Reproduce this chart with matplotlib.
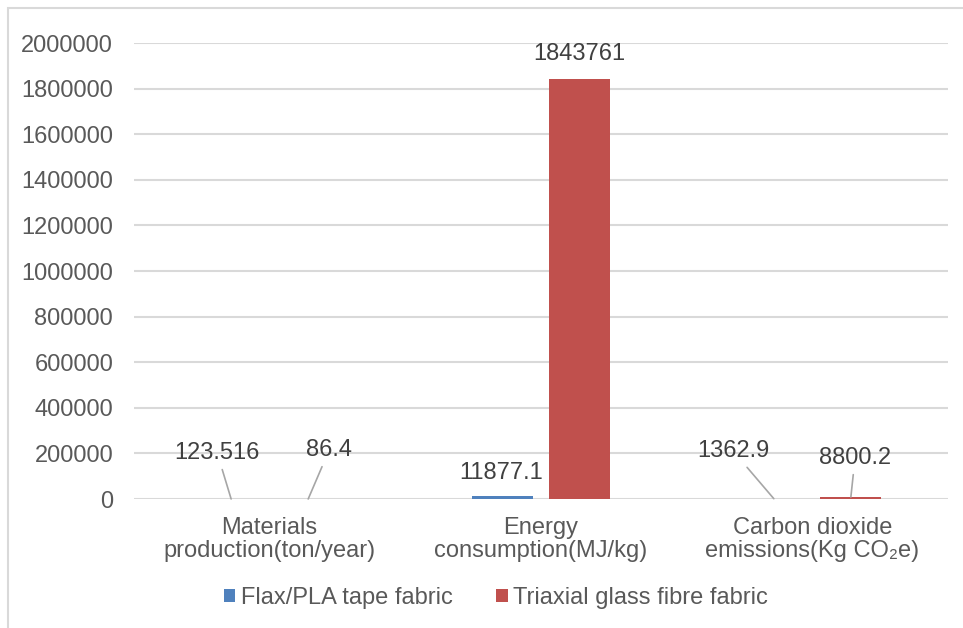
import numpy as np
from matplotlib import pyplot as plt
from matplotlib import ticker
from matplotlib.patches import Rectangle

plt.rcParams['font.family'] = ['Liberation Sans', 'DejaVu Sans']

categories = ['Materials\nproduction(ton/year)',
              'Energy\nconsumption(MJ/kg)',
              'Carbon dioxide\nemissions(Kg CO\u2082e)']
series_names = ['Flax/PLA tape fabric', 'Triaxial glass fibre fabric']
flax = [123.516, 11877.1, 1362.9]
glass = [86.4, 1843761, 8800.2]
flax_labels = ['123.516', '11877.1', '1362.9']
glass_labels = ['86.4', '1843761', '8800.2']

# label offsets (points) relative to the bar top, and whether a leader line is drawn
flax_offsets = [(-10, 33), (-1, 17), (-29, 34)]
glass_offsets = [(15, 35), (0, 18), (3, 28)]
flax_leader = [True, False, True]
glass_leader = [True, False, True]

BLUE = '#4F81BD'
RED = '#C0504D'
GRID = '#D9D9D9'
TEXT = '#595959'
LABEL = '#404040'


def main():
    fig = plt.figure(figsize=(9.63, 6.28), dpi=100)
    ax = fig.add_axes([134 / 963, 1 - 499 / 628, (948 - 134) / 963, (499 - 43) / 628])

    x = np.arange(len(categories))
    w = 0.225
    off = 0.142
    b1 = ax.bar(x - off, flax, w, color=BLUE, label=series_names[0], zorder=3)
    b2 = ax.bar(x + off, glass, w, color=RED, label=series_names[1], zorder=3)

    ax.set_xlim(-0.5, 2.5)
    ax.set_ylim(0, 2000000)
    ax.set_yticks(np.arange(0, 2000001, 200000))
    ax.yaxis.set_major_formatter(ticker.StrMethodFormatter('{x:.0f}'))
    ax.set_xticks(x)
    ax.set_xticklabels(categories, linespacing=1.05)
    ax.tick_params(axis='both', length=0, labelsize=17, colors=TEXT)
    ax.tick_params(axis='y', pad=15)
    ax.tick_params(axis='x', pad=13)
    ax.grid(axis='y', color=GRID, linewidth=1.5, zorder=0)
    for s in ax.spines.values():
        s.set_visible(False)

    for bars, labels, offs, leads in [(b1, flax_labels, flax_offsets, flax_leader),
                                      (b2, glass_labels, glass_offsets, glass_leader)]:
        for rect, lab, o, lead in zip(bars, labels, offs, leads):
            xy = (rect.get_x() + rect.get_width() / 2, rect.get_height())
            props = dict(arrowstyle='-', color='#A6A6A6', lw=1.2,
                         shrinkA=2, shrinkB=0) if lead else None
            ax.annotate(lab, xy=xy, xytext=o, textcoords='offset points',
                        ha='center', va='center', fontsize=17, color=LABEL,
                        arrowprops=props, zorder=4)

    fig.legend(loc='center', bbox_to_anchor=(496 / 963, 1 - 598 / 628), ncol=2,
               frameon=False, fontsize=17, labelcolor=TEXT,
               handlelength=0.5, handleheight=0.5, handletextpad=0.25,
               columnspacing=1.8)

    fig.patches.append(Rectangle((8 / 963, -0.1), 1.1, 1.1 - 8 / 628,
                                 transform=fig.transFigure, fill=False,
                                 edgecolor=GRID, linewidth=1.5))
    fig.savefig('out.png', dpi=100)


if __name__ == '__main__':
    main()
